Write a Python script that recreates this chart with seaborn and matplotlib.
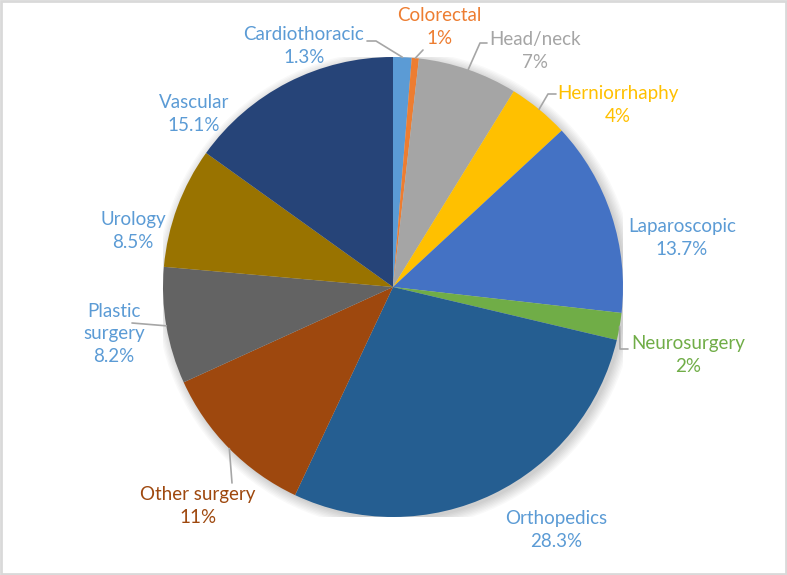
import numpy as np
import matplotlib
matplotlib.use("Agg")
import matplotlib.pyplot as plt
import matplotlib.patches as mpatches
import seaborn as sns

# data
categories = ["Cardiothoracic", "Colorectal", "Head/neck", "Herniorrhaphy", "Laparoscopic",
              "Neurosurgery", "Orthopedics", "Other surgery", "Plastic surgery", "Urology", "Vascular"]
shares = [1.3, 0.5, 7.0, 4.3, 13.7, 1.9, 28.3, 11.2, 8.2, 8.5, 15.1]
pct_labels = ["1.3%", "1%", "7%", "4%", "13.7%", "2%", "28.3%", "11%", "8.2%", "8.5%", "15.1%"]
name_labels = ["Cardiothoracic", "Colorectal", "Head/neck", "Herniorrhaphy", "Laparoscopic",
               "Neurosurgery", "Orthopedics", "Other surgery", "Plastic\nsurgery", "Urology", "Vascular"]

slice_colors = ["#5B9BD5", "#ED7D31", "#A5A5A5", "#FFC000", "#4472C4", "#70AD47",
                "#255E91", "#9E480E", "#636363", "#997300", "#264478"]
text_colors = ["#5B9BD5", "#ED7D31", "#A5A5A5", "#FFC000", "#5B9BD5", "#70AD47",
               "#5B9BD5", "#9E480E", "#5B9BD5", "#5B9BD5", "#5B9BD5"]

sns.set_theme(style="white")
plt.rcParams['font.family'] = ['Lato', 'DejaVu Sans']

W, H = 787, 575
cx, cy, R = 393, 287, 230
fig = plt.figure(figsize=(W / 100, H / 100), dpi=100)
ax = fig.add_axes([(cx - R) / W, (H - cy - R) / H, 2 * R / W, 2 * R / H])

def px(x, y):
    return (x - cx) / R, (cy - y) / R

# soft shadow under the pie
for k in range(8):
    ax.add_patch(mpatches.Circle((0.012, -0.012), 1.0 + 0.006 * k, color="black",
                                 alpha=0.025, lw=0, zorder=0))

wedges, _ = ax.pie(shares, colors=slice_colors, startangle=90, counterclock=False,
                   radius=1, wedgeprops=dict(linewidth=0))
for w in wedges:
    w.set_zorder(2)

# label layout: text center (px), leader elbow (px) or None
layout = {
    "Cardiothoracic": ((304, 46), [(367, 41), (376, 41)]),
    "Colorectal": ((439, 27), [(423, 50)]),
    "Head/neck": ((535, 51), [(487, 43), (480, 43)]),
    "Herniorrhaphy": ((618, 105), [(556, 94), (548, 94)]),
    "Laparoscopic": ((682, 238), None),
    "Neurosurgery": ((688, 355), [(628, 349), (620, 349)]),
    "Orthopedics": ((556, 530), None),
    "Other surgery": ((198, 506), [(232, 483)]),
    "Plastic surgery": ((114, 334), [(132, 323)]),
    "Urology": ((133, 231), None),
    "Vascular": ((194, 114), None),
}

for i, cat in enumerate(categories):
    (tx, ty), elbow = layout[cat]
    x, y = px(tx, ty)
    ax.text(x, y, name_labels[i] + "\n" + pct_labels[i], ha="center", va="center",
            fontsize=13.5, color=text_colors[i], linespacing=1.38)
    if elbow is not None:
        w = wedges[i]
        mid = np.deg2rad((w.theta1 + w.theta2) / 2)
        pts = [px(a, b) for a, b in elbow] + [(np.cos(mid), np.sin(mid))]
        ax.plot([p[0] for p in pts], [p[1] for p in pts], color="#A6A6A6", lw=1.2,
                clip_on=False, zorder=3)

ax.set_xlim(-1, 1)
ax.set_ylim(-1, 1)
ax.set_aspect("equal")
ax.axis("off")

fig.patches.append(mpatches.Rectangle((0.0015, 0.002), 0.997, 0.996, transform=fig.transFigure,
                                      fill=False, edgecolor="#D9D9D9", linewidth=2))

fig.savefig("out.png", dpi=100, facecolor="white")
